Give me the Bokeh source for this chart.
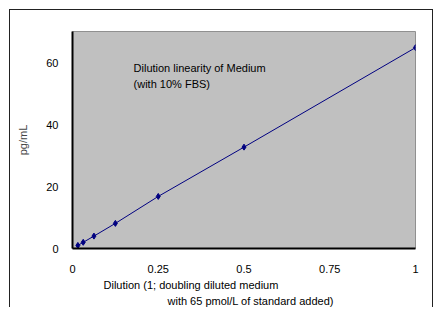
from bokeh.plotting import figure
from bokeh.models import Range1d, FixedTicker, Label, Title
from bokeh.embed import file_html
from bokeh.resources import INLINE

# Data
dilution = [1.0, 0.5, 0.25, 0.125, 0.0625, 0.03125, 0.015625]
conc = [64.8, 32.7, 16.8, 8.1, 4.0, 2.0, 1.0]
x_ticks = [0, 0.25, 0.5, 0.75, 1]
x_tick_labels = ["0", "0.25", "0.5", "0.75", "1"]
y_ticks = [0, 20, 40, 60]
x_title = ["Dilution (1; doubling diluted medium", "with 65 pmol/L of standard added)"]

FONT = "Liberation Sans"

p = figure(width=424, height=298, output_backend="svg", toolbar_location=None,
           x_range=Range1d(0, 1), y_range=Range1d(0, 70),
           min_border_left=62, min_border_right=19, min_border_top=21, min_border_bottom=59)
p.styles = {"border-left": "1px solid #222", "border-top": "1px solid #222",
            "border-right": "1px solid #222", "margin-left": "9px", "margin-top": "9px"}

p.background_fill_color = "#c0c0c0"
p.border_fill_color = "white"
p.outline_line_color = "#909090"
p.grid.visible = False

p.line(dilution, conc, line_color="#000080", line_width=1)
p.scatter(dilution, conc, marker="diamond", size=6, color="#000080")

for ax in (p.xaxis[0], p.yaxis[0]):
    ax.axis_line_color = "black"
    ax.axis_line_width = 2
    ax.major_tick_line_color = None
    ax.minor_tick_line_color = None
    ax.major_tick_out = 0
    ax.major_tick_in = 0
    ax.minor_tick_out = 0
    ax.major_label_text_font = FONT
    ax.major_label_text_font_size = "11px"
    ax.major_label_text_color = "black"
    ax.axis_label_text_font = FONT
    ax.axis_label_text_font_size = "11px"
    ax.axis_label_text_font_style = "normal"

p.xaxis.ticker = FixedTicker(ticks=x_ticks)
p.xaxis.major_label_overrides = {t: l for t, l in zip(x_ticks, x_tick_labels)}
p.xaxis.major_label_standoff = 16
p.yaxis.ticker = FixedTicker(ticks=y_ticks)
p.yaxis.major_label_standoff = 14
p.yaxis.axis_label = "pg/mL"
p.yaxis.axis_label_standoff = 14

for txt, x, y in [("Dilution linearity of Medium", 0.178, 58.1),
                  ("(with 10% FBS)", 0.178, 53.0)]:
    p.add_layout(Label(x=x, y=y, text=txt, text_font=FONT, text_font_size="11px",
                       text_baseline="middle", text_color="black"))

for txt, off, so in zip(x_title, [31, 95], [2, 3]):
    p.add_layout(Title(text=txt, align="left", offset=off, text_font=FONT,
                       text_font_size="11px", text_font_style="normal",
                       text_color="black", standoff=so), "below")

open("out.html", "w").write(file_html(p, INLINE))
